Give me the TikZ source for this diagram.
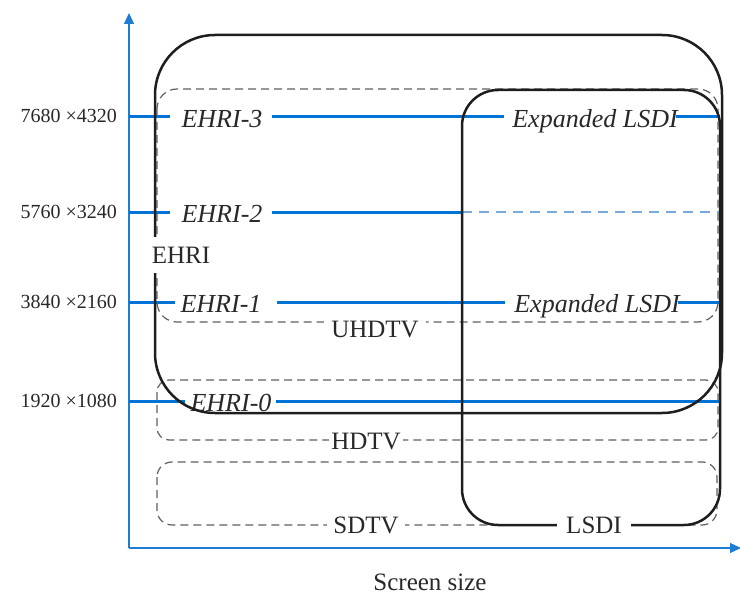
\documentclass[tikz,border=0pt]{standalone}
\usepackage{fontspec}
\setmainfont{Liberation Serif}[ItalicFont={Liberation Serif Italic}]
\usetikzlibrary{arrows.meta}
\definecolor{axblue}{RGB}{30,125,210}
\definecolor{lineblue}{RGB}{0,115,215}
\definecolor{dashblue}{RGB}{120,170,220}
\definecolor{boxblack}{RGB}{30,30,30}
\definecolor{dashgray}{RGB}{95,95,95}
\definecolor{txt}{RGB}{40,40,40}
\begin{document}
\begin{tikzpicture}[x=1pt,y=-1pt,
  region/.style={draw=boxblack, line width=2.5pt},
  fmtbox/.style={draw=dashgray, line width=1.2pt, dash pattern=on 8pt off 5pt},
  resline/.style={draw=lineblue, line width=3pt},
  resdash/.style={draw=dashblue, line width=1.5pt, dash pattern=on 10pt off 7pt},
  axisline/.style={draw=axblue, line width=1.3pt, -{Triangle[length=11pt,width=10pt]}},
  lbl/.style={font=\fontsize{25}{30}\selectfont, text=txt, inner sep=0pt, anchor=base},
  ilbl/.style={font=\fontsize{26}{30}\selectfont\itshape, text=txt, inner sep=0pt, anchor=base},
  ticklbl/.style={font=\fontsize{20}{24}\selectfont, text=txt, inner sep=0pt, anchor=base east},
  masklbl/.style={lbl, fill=white, inner xsep=6pt, inner ysep=3pt}
]
\useasboundingbox (0,0) rectangle (740,594);

% format regions (dashed)
\draw[fmtbox, rounded corners=20pt] (157,89) rectangle (718,322);
\draw[fmtbox, rounded corners=12pt] (157,380) rectangle (718,440);
\draw[fmtbox, rounded corners=15pt] (157,462) rectangle (717,525);

% axes
\coordinate (o) at (129,548);
\coordinate (ytop) at (129,13);
\coordinate (xend) at (741,548);
\draw[axisline] (o) -- (ytop);
\draw[axisline] (o) -- (xend);

% resolution rows
\coordinate (a3) at (129,117); \coordinate (r3) at (720,117);
\coordinate (a2) at (129,212); \coordinate (l2) at (462,212); \coordinate (r2) at (720,212);
\coordinate (a1) at (129,302); \coordinate (r1) at (720,302);
\coordinate (a0) at (129,401); \coordinate (r0) at (720,401);

\node[ticklbl] (t3) at (117,123) {7680 ×4320};
\node[ticklbl] (t2) at (117,218) {5760 ×3240};
\node[ticklbl] (t1) at (117,308) {3840 ×2160};
\node[ticklbl] (t0) at (117,407) {1920 ×1080};

\node[ilbl] (e3) at (222,127.5) {EHRI-3};
\node[ilbl] (x3) at (595,127.5) {Expanded LSDI};
\node[ilbl] (e2) at (222,222.5) {EHRI-2};
\node[ilbl] (e1) at (221,312.5) {EHRI-1};
\node[ilbl] (x1) at (597,312.5) {Expanded LSDI};
\node[ilbl] (e0) at (231,411.5) {EHRI-0};

\draw[resline, shorten >=11pt] (a3) -- (e3.west |- a3);
\draw[resline, shorten <=9pt, shorten >=8pt] (e3.east |- a3) -- (x3.west |- a3);
\draw[resline, shorten <=-2pt] (x3.east |- a3) -- (r3);

\draw[resline, shorten >=11pt] (a2) -- (e2.west |- a2);
\draw[resline, shorten <=9pt] (e2.east |- a2) -- (l2);
\draw[resdash] (l2) -- (r2);

\draw[resline, shorten >=5pt] (a1) -- (e1.west |- a1);
\draw[resline, shorten <=15pt, shorten >=9pt] (e1.east |- a1) -- (x1.west |- a1);
\draw[resline, shorten <=-2pt] (x1.east |- a1) -- (r1);

\draw[resline, shorten >=5pt] (a0) -- (e0.west |- a0);
\draw[resline, shorten <=4pt] (e0.east |- a0) -- (r0);

% EHRI and LSDI regions
\draw[region, rounded corners=60pt] (155,35) rectangle (722,413);
\draw[region, rounded corners=36pt] (462,90) rectangle (720,525);

% region labels
\node[masklbl, inner xsep=2pt, inner ysep=10pt] (ehri) at (181,263) {EHRI};
\node[masklbl, inner xsep=7pt] (uhd) at (375,337) {UHDTV};
\node[masklbl, inner xsep=2pt] (hd) at (366,449) {HDTV};
\node[masklbl, inner xsep=6pt] (sd) at (366,533) {SDTV};
\node[masklbl, inner xsep=9pt] (lsdi) at (594,533) {LSDI};

\node[lbl] (xlab) at (430,590) {Screen size};
\end{tikzpicture}
\end{document}
